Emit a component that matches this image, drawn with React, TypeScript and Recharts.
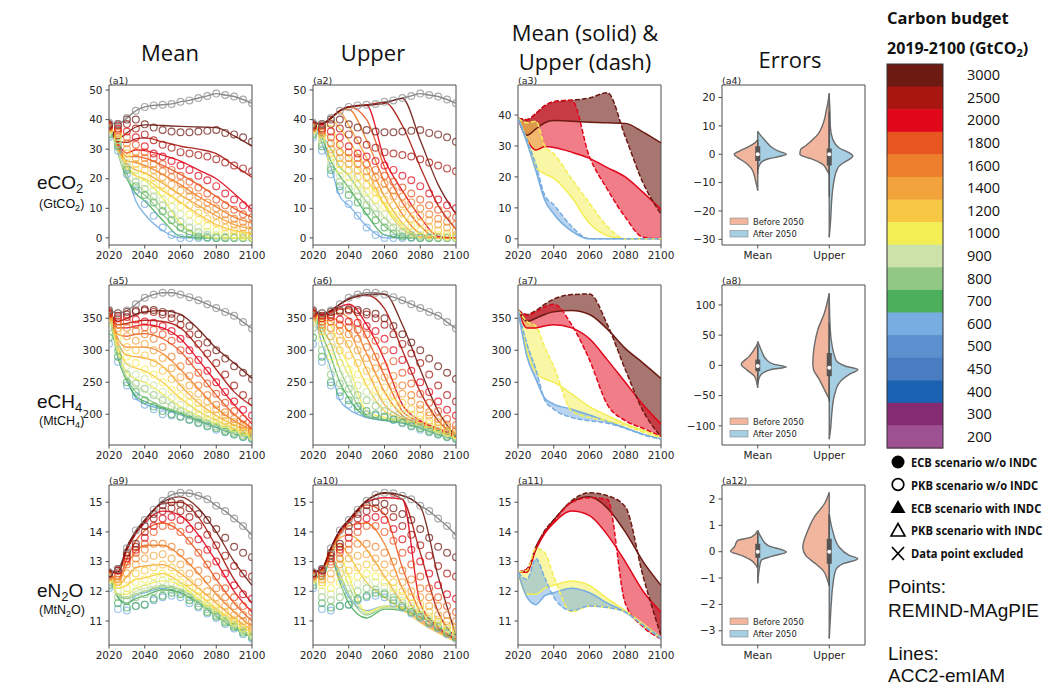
import {
  Area,
  ComposedChart,
  Line,
  ReferenceArea,
  ReferenceDot,
  ReferenceLine,
  Scatter,
  XAxis,
  YAxis,
} from "recharts";

// ---- shared axes / categories ----
const pointYears = [2020, 2025, 2030, 2035, 2040, 2045, 2050, 2055, 2060, 2065, 2070, 2075, 2080, 2085, 2090, 2095, 2100];
const lineYears = [2020, 2025, 2030, 2035, 2040, 2050, 2060, 2070, 2080, 2090, 2100];
const yearTicks = [2020, 2040, 2060, 2080, 2100];

const budgets = [3000, 2500, 2000, 1800, 1600, 1400, 1200, 1000, 900, 800, 700, 600];
const budgetColors = [
  "#6d1a12", "#a8160f", "#e2061b", "#e95520", "#ee7f2d", "#f3a33b",
  "#f7c844", "#f4ee55", "#cde2a9", "#92c886", "#4caf5c", "#77ade0",
];
const bandBudgets = [3000, 2000, 1000, 600];
const baselineColor = "#8a8a8a";

const colorbarLabels = [3000, 2500, 2000, 1800, 1600, 1400, 1200, 1000, 900, 800, 700, 600, 500, 450, 400, 300, 200];
const colorbarColors = [
  "#6d1a12", "#a8160f", "#e2061b", "#e95520", "#ee7f2d", "#f3a33b", "#f7c844", "#f4ee55",
  "#cde2a9", "#92c886", "#4caf5c", "#77ade0", "#5b90cf", "#4a7cc1", "#1b62b2", "#852b74", "#9d5193",
];

// ---- eCO2 (GtCO2) ----
const co2Baseline = [39, 38.5, 40.5, 43, 44.3, 44.8, 45, 45.3, 46, 46.5, 47.3, 48, 48.8, 48.3, 47.8, 46.8, 45.5];
const co2Points = [
  [38.5, 38.5, 40, 40, 38.4, 37.3, 36.5, 36, 35.7, 35.7, 36, 36.2, 36.5, 35.5, 35, 34, 32.5],
  [38, 38, 38.5, 37, 35, 33, 31.5, 30.5, 29, 28.5, 28, 27.5, 26.6, 25.5, 24.5, 23.5, 22.5],
  [38, 37, 36, 34, 31, 28.5, 27.5, 26, 24.5, 23, 21, 19.5, 17.5, 15, 13, 11, 10],
  [37.5, 36.5, 34, 31.5, 29, 27, 25, 23, 21, 19, 17, 15, 13, 11, 9.5, 8, 7],
  [37.5, 36, 32, 29, 27, 25, 22.5, 20.5, 18.5, 16, 14, 12, 10, 8, 6.5, 5.5, 4.5],
  [37, 35.5, 30, 27, 25, 23, 20.5, 18, 16, 14, 11.5, 9.5, 7.5, 6, 4.5, 3.5, 2.5],
  [37, 35, 28.5, 25, 23, 20.5, 18, 15.5, 13, 11, 8.5, 6.5, 5, 3.5, 2.5, 1.5, 1],
  [36.5, 34, 27, 23, 20.5, 18, 15.5, 13, 10.5, 8, 6, 4, 2.5, 1.5, 1, 0.5, 0.3],
  [36, 33, 25.5, 21, 18.5, 16, 13, 10.5, 8, 5.5, 3.5, 2, 1, 0.5, 0.3, 0.2, 0.1],
  [35.5, 32, 24, 19, 16.5, 14, 11, 8, 5.5, 3.5, 2, 1, 0.5, 0.3, 0.2, 0.1, 0],
  [35, 31, 23, 17.5, 14.5, 12, 9, 6, 3.5, 1.5, 0.5, 0.2, 0, 0, 0, 0, 0],
  [34, 29.5, 21.5, 16, 11.5, 7.5, 3.5, 1, 0, 0, 0, 0, 0, 0, 0, 0, 0],
];
const co2Mean = [
  [39, 33.5, 35.5, 37.5, 38.2, 38, 37.7, 37.5, 37.3, 34.5, 31],
  [39, 32.5, 32.3, 33.5, 33.8, 32.5, 31, 30, 28.5, 24.5, 20.5],
  [39, 32, 28.7, 29.8, 29.5, 28, 26, 23, 20, 15, 9.5],
  [39, 31.5, 27.5, 27.5, 27, 24.5, 21.5, 18, 14, 10, 7],
  [39, 31, 26, 25.5, 24.5, 21.5, 18, 14, 10.5, 7, 5],
  [39, 30.5, 25, 23, 22, 18.5, 14.5, 11, 7.5, 4.5, 3],
  [39, 30, 24, 21, 20, 16, 12, 8, 4.5, 2.5, 1.5],
  [39, 32, 23, 21, 19.5, 13.4, 5, 1, 0, 0, 0],
  [39, 29, 21, 18, 16, 10, 4, 1, 0.2, 0, 0],
  [39, 28.5, 20, 16.5, 14.5, 8, 2.5, 0.5, 0, 0, 0],
  [39, 29, 20, 15, 12.5, 6, 0.5, 0, 0, 0, 0],
  [39, 31, 22, 12.5, 8, 2.5, 0, 0, 0, 0, 0],
];
const co2Upper = [
  [39, 38.5, 40.5, 43, 44.3, 44.8, 45.5, 47.2, 33, 18, 8],
  [39, 38.5, 40.5, 43, 44.3, 45, 45.8, 38, 24, 11, 3],
  [39, 38.5, 40.5, 43, 44.3, 44.8, 26.5, 16, 7, 0.5, 0],
  [39, 38.5, 40.5, 43, 44.3, 40, 24, 12, 4, 0, 0],
  [39, 38.5, 40.5, 43, 43.5, 33, 19, 8, 1.5, 0, 0],
  [39, 38.5, 40.5, 42.5, 38, 27, 14, 5, 0.5, 0, 0],
  [39, 38.5, 40, 37, 33, 23, 11, 3, 0, 0, 0],
  [39, 37.5, 38, 30, 27.5, 19.4, 11.5, 4, 0, 0, 0],
  [39, 36, 33, 27, 24, 15, 7, 1.5, 0, 0, 0],
  [39, 35, 30, 24, 21, 12, 4, 0.5, 0, 0, 0],
  [39, 34, 26, 21, 17, 8, 1, 0, 0, 0, 0],
  [39, 32, 24, 14, 11, 4, 0, 0, 0, 0, 0],
];

// ---- eCH4 (MtCH4) ----
const ch4Baseline = [363, 358, 362, 372, 382, 387, 390, 390, 387, 383, 378, 372, 366, 360, 354, 344, 334];
const ch4Points = [
  [362, 358, 360, 362, 364, 363, 360, 357, 350, 338, 325, 312, 300, 287, 275, 265, 255],
  [360, 354, 356, 360, 362, 360, 356, 350, 340, 325, 310, 295, 280, 262, 245, 230, 220],
  [358, 350, 352, 348, 345, 343, 338, 330, 318, 300, 285, 268, 250, 235, 220, 207, 198],
  [356, 345, 345, 340, 336, 332, 325, 315, 300, 283, 265, 248, 232, 218, 205, 193, 183],
  [354, 340, 335, 330, 325, 318, 305, 290, 275, 260, 245, 230, 215, 203, 193, 184, 176],
  [352, 335, 322, 315, 310, 300, 288, 272, 258, 245, 232, 220, 208, 198, 188, 180, 173],
  [350, 330, 305, 300, 292, 280, 268, 255, 242, 230, 218, 208, 198, 190, 182, 175, 169],
  [345, 320, 290, 280, 270, 262, 250, 238, 228, 218, 208, 200, 192, 185, 178, 172, 167],
  [340, 310, 275, 262, 255, 245, 235, 225, 215, 208, 200, 193, 187, 181, 175, 170, 166],
  [335, 300, 262, 248, 240, 230, 222, 213, 205, 198, 192, 186, 181, 176, 171, 167, 164],
  [320, 290, 250, 235, 222, 212, 205, 200, 196, 192, 187, 182, 178, 173, 169, 165, 162],
  [310, 282, 245, 228, 215, 208, 200, 198, 196, 191, 186, 181, 176, 172, 168, 164, 161],
];
const ch4Mean = [
  [363, 345, 350, 356, 360, 362, 356, 333, 303, 280, 256],
  [363, 340, 342, 345, 347, 345, 335, 305, 270, 235, 213],
  [363, 335, 335, 338, 340, 335, 318, 285, 250, 215, 185],
  [363, 325, 322, 325, 326, 318, 298, 265, 230, 200, 178],
  [363, 318, 305, 305, 305, 295, 270, 240, 210, 190, 175],
  [363, 312, 292, 290, 288, 275, 245, 218, 198, 183, 172],
  [363, 305, 278, 272, 268, 250, 225, 205, 190, 178, 168],
  [363, 300, 265, 255, 250, 232, 212, 198, 185, 175, 166],
  [363, 295, 258, 245, 236, 220, 206, 195, 183, 173, 165],
  [363, 292, 255, 235, 226, 212, 203, 192, 181, 171, 164],
  [363, 288, 252, 228, 220, 210, 201, 190, 180, 170, 163],
  [363, 290, 255, 225, 216, 208, 199, 189, 179, 169, 162],
];
const ch4Upper = [
  [363, 356, 362, 372, 380, 387, 388, 340, 270, 205, 165],
  [363, 356, 362, 372, 380, 386, 365, 300, 235, 190, 165],
  [363, 355, 360, 368, 372, 340, 285, 215, 190, 178, 166],
  [363, 354, 358, 364, 365, 320, 260, 205, 188, 176, 165],
  [363, 352, 355, 358, 350, 295, 235, 198, 186, 175, 164],
  [363, 350, 350, 345, 330, 270, 215, 195, 184, 174, 164],
  [363, 348, 345, 330, 305, 245, 205, 193, 183, 173, 163],
  [363, 345, 338, 305, 275, 205, 195, 190, 182, 172, 163],
  [363, 340, 325, 290, 260, 200, 193, 189, 181, 171, 162],
  [363, 335, 310, 270, 240, 198, 192, 188, 180, 170, 162],
  [363, 325, 290, 250, 225, 196, 191, 187, 179, 169, 161],
  [363, 310, 270, 222, 208, 195, 190, 186, 178, 168, 161],
];

// ---- eN2O (MtN2O) ----
const n2oBaseline = [12.65, 12.75, 13.45, 14.05, 14.4, 14.75, 15.05, 15.25, 15.32, 15.3, 15.22, 15.1, 14.88, 14.7, 14.45, 14.2, 13.88];
const n2oPoints = [
  [12.6, 12.75, 13.3, 13.6, 14.2, 14.6, 14.9, 15.0, 14.95, 14.8, 14.6, 14.4, 14.1, 13.8, 13.5, 13.3, 13.15],
  [12.6, 12.7, 13.2, 13.5, 14.0, 14.45, 14.7, 14.8, 14.7, 14.5, 14.2, 13.9, 13.55, 13.2, 12.85, 12.6, 12.5],
  [12.6, 12.7, 13.1, 13.4, 13.8, 14.2, 14.45, 14.5, 14.4, 14.1, 13.75, 13.4, 13.0, 12.6, 12.2, 11.9, 11.75],
  [12.55, 12.6, 13.0, 13.3, 13.6, 14.0, 14.2, 14.2, 14.0, 13.7, 13.3, 12.9, 12.5, 12.1, 11.8, 11.5, 11.3],
  [12.5, 12.5, 12.9, 13.1, 13.4, 13.6, 13.6, 13.5, 13.3, 13.0, 12.7, 12.4, 12.1, 11.8, 11.5, 11.2, 11.0],
  [12.5, 12.4, 12.6, 12.9, 13.1, 13.2, 13.25, 13.1, 12.9, 12.6, 12.3, 12.0, 11.8, 11.5, 11.2, 11.0, 10.8],
  [12.45, 12.3, 12.4, 12.6, 12.7, 12.8, 12.9, 12.8, 12.6, 12.3, 12.0, 11.8, 11.55, 11.3, 11.05, 10.85, 10.7],
  [12.4, 12.2, 12.1, 12.3, 12.4, 12.5, 12.6, 12.5, 12.3, 12.1, 11.85, 11.6, 11.4, 11.15, 10.95, 10.75, 10.6],
  [12.4, 12.0, 11.9, 12.0, 12.1, 12.25, 12.35, 12.3, 12.15, 11.95, 11.7, 11.5, 11.3, 11.05, 10.9, 10.7, 10.55],
  [12.3, 11.8, 11.7, 11.8, 11.9, 12.0, 12.1, 12.05, 11.95, 11.8, 11.6, 11.4, 11.2, 11.0, 10.85, 10.65, 10.5],
  [12.2, 11.6, 11.45, 11.5, 11.55, 11.75, 11.85, 11.95, 11.9, 11.7, 11.5, 11.3, 11.15, 10.95, 10.8, 10.6, 10.45],
  [12.1, 11.4, 11.35, 11.5, 11.55, 11.7, 11.8, 11.85, 11.8, 11.6, 11.45, 11.25, 11.1, 10.9, 10.75, 10.55, 10.4],
];
const n2oMean = [
  [12.65, 12.65, 13.5, 14.0, 14.4, 15.0, 15.18, 14.8, 14.0, 13.0, 12.2],
  [12.65, 12.6, 13.4, 13.95, 14.35, 14.95, 15.0, 14.5, 13.5, 12.4, 11.6],
  [12.65, 12.65, 13.4, 13.95, 14.3, 14.7, 14.55, 13.9, 13.0, 12.0, 11.3],
  [12.65, 12.4, 13.1, 13.7, 14.05, 14.3, 14.0, 13.3, 12.4, 11.6, 11.0],
  [12.65, 12.3, 12.9, 13.35, 13.55, 13.55, 13.2, 12.6, 11.9, 11.3, 10.8],
  [12.65, 12.2, 12.5, 12.8, 12.85, 12.9, 12.6, 12.1, 11.6, 11.1, 10.7],
  [12.65, 12.1, 12.2, 12.4, 12.45, 12.6, 12.3, 11.9, 11.4, 11.0, 10.6],
  [12.65, 11.9, 11.9, 12.1, 12.2, 12.35, 12.2, 11.75, 11.35, 10.9, 10.45],
  [12.65, 11.9, 11.8, 12.0, 12.1, 12.2, 12.1, 11.7, 11.25, 10.85, 10.5],
  [12.65, 11.85, 11.75, 11.9, 12.0, 12.15, 12.05, 11.65, 11.2, 10.8, 10.5],
  [12.65, 11.8, 11.6, 11.75, 11.85, 12.05, 11.95, 11.6, 11.15, 10.75, 10.45],
  [12.65, 11.8, 11.55, 11.85, 11.95, 12.1, 11.95, 11.6, 11.3, 10.85, 10.45],
];
const n2oUpper = [
  [12.65, 12.75, 13.45, 14.05, 14.4, 15.05, 15.32, 15.22, 14.85, 12.5, 10.5],
  [12.65, 12.75, 13.45, 14.05, 14.4, 15.05, 15.3, 15.1, 13.3, 11.3, 10.45],
  [12.65, 12.75, 13.45, 14.0, 14.35, 15.0, 15.15, 15.1, 11.6, 10.8, 10.4],
  [12.65, 12.7, 13.4, 13.95, 14.3, 14.9, 14.6, 12.8, 11.3, 10.75, 10.4],
  [12.65, 12.7, 13.35, 13.9, 14.2, 14.3, 13.6, 12.1, 11.1, 10.7, 10.35],
  [12.65, 12.7, 13.3, 13.8, 13.9, 13.4, 12.5, 11.6, 11.0, 10.65, 10.35],
  [12.65, 12.65, 13.3, 13.6, 13.2, 12.3, 11.8, 11.4, 10.95, 10.6, 10.3],
  [12.65, 12.7, 13.45, 13.3, 12.5, 11.3, 11.5, 11.45, 11.3, 10.85, 10.4],
  [12.65, 12.6, 13.3, 13.0, 12.2, 11.25, 11.45, 11.4, 11.2, 10.8, 10.4],
  [12.65, 12.5, 13.2, 12.6, 11.9, 11.2, 11.45, 11.4, 11.2, 10.8, 10.4],
  [12.65, 12.4, 13.1, 12.3, 11.6, 11.1, 11.4, 11.35, 11.15, 10.75, 10.35],
  [12.65, 12.4, 13.1, 12.45, 11.8, 11.35, 11.5, 11.45, 11.3, 10.85, 10.4],
];

// ---- errors (violins): [value, half-width] ----
const errorCategories = ["Mean", "Upper"];
const co2MeanBefore = [[5.2, 0], [4, 0.04], [2.8, 0.12], [1.2, 0.25], [0, 0.33], [-1.2, 0.28], [-3, 0.17], [-5, 0.09], [-6.5, 0.06], [-8.9, 0.035], [-11, 0.015], [-12.8, 0]];
const co2MeanAfter = [[8.1, 0], [7, 0.03], [5.2, 0.09], [3.5, 0.15], [2.2, 0.21], [1, 0.3], [0, 0.4], [-0.8, 0.3], [-1.6, 0.15], [-2.6, 0.06], [-4, 0.02], [-5.5, 0]];
const co2UpperBefore = [[21.5, 0], [18, 0.02], [15.7, 0.04], [12, 0.07], [9.8, 0.1], [7, 0.16], [5.2, 0.23], [3, 0.33], [1.7, 0.4], [0, 0.41], [-1, 0.33], [-1.8, 0.23], [-3.6, 0.09], [-5.3, 0.04], [-7.1, 0]];
const co2UpperAfter = [[20.4, 0], [15, 0.01], [9.8, 0.015], [5.2, 0.05], [2.2, 0.14], [0.5, 0.28], [-0.7, 0.33], [-1.8, 0.28], [-3, 0.2], [-4.2, 0.14], [-6, 0.1], [-8.9, 0.07], [-12, 0.05], [-15.9, 0.035], [-22.9, 0.02], [-29.3, 0]];
const ch4MeanBefore = [[37, 0], [31.5, 0.023], [15, 0.12], [1.4, 0.23], [-6.8, 0.16], [-17.8, 0.047], [-28.8, 0.014], [-37, 0]];
const ch4MeanAfter = [[39.7, 0], [26, 0.047], [9.6, 0.12], [2, 0.22], [-2.5, 0.4], [-6.8, 0.19], [-15, 0.047], [-23, 0.014], [-31.5, 0]];
const ch4UpperBefore = [[119, 0], [86, 0.07], [59, 0.16], [31.5, 0.21], [4, 0.23], [-6.8, 0.22], [-23, 0.14], [-45, 0.047], [-56, 0]];
const ch4UpperAfter = [[116, 0], [59, 0.014], [9.6, 0.09], [-1.4, 0.23], [-6.8, 0.4], [-15, 0.28], [-28.8, 0.14], [-50.7, 0.07], [-78, 0.037], [-105, 0.019], [-122, 0]];
const n2oMeanBefore = [[0.8, 0], [0.55, 0.09], [0.43, 0.28], [0.17, 0.33], [0.02, 0.38], [-0.14, 0.23], [-0.33, 0.09], [-0.52, 0.023], [-0.64, 0]];
const n2oMeanAfter = [[0.8, 0], [0.55, 0.047], [0.24, 0.14], [-0.01, 0.4], [-0.18, 0.19], [-0.33, 0.047], [-0.7, 0.019], [-1.2, 0]];
const n2oUpperBefore = [[2.25, 0], [1.81, 0.07], [1.31, 0.21], [0.8, 0.3], [0.17, 0.37], [-0.14, 0.33], [-0.46, 0.19], [-0.7, 0.09], [-1.09, 0.023], [-1.27, 0]];
const n2oUpperAfter = [[1.43, 0], [0.8, 0.047], [0.17, 0.14], [-0.14, 0.28], [-0.27, 0.4], [-0.46, 0.19], [-0.7, 0.09], [-1.34, 0.047], [-1.97, 0.028], [-2.6, 0.014], [-3.29, 0]];
// box: [q1, q3, whiskerLow, whiskerHigh, median]
const co2Boxes = [[-2.4, 2.8, -7, 5.2, 0], [-4, 2, -15, 15, 0]];
const ch4Boxes = [[-9.6, 9.6, -25, 30, -1], [-17.8, 20.5, -60, 70, -4]];
const n2oBoxes = [[-0.23, 0.3, -0.6, 0.7, 0], [-0.46, 0.49, -1.3, 1.4, 0]];

// ---- layout ----
const colLeft = [109, 313, 518, 722];
const rowTop = [85, 285, 485];
const PLOT_W = 143;
const PLOT_H = 160;
const Y_W = 40;
const TOP_M = 14;
const RIGHT_M = 16;
const X_H = 24;
const CHART_W = Y_W + PLOT_W + RIGHT_M;
const CHART_H = TOP_M + PLOT_H + X_H;
const FRAME = "#4d4d4d";
const TICK = { fontSize: 10.5, fill: "#262626", fontFamily: "DejaVu Sans" };
const SALMON = "#f2b59d";
const SKY = "#a6cfe4";

const fmt = (v: number) => (v < 0 ? "\u2212" + Math.abs(v) : String(v));
const toSeries = (years: number[], values: number[]) => years.map((year, i) => ({ year, v: values[i] }));
const ring = (color: string) => (props: any) => (
  <circle cx={props.cx} cy={props.cy} r={3.4} fill="none" stroke={color} strokeWidth={1.2} strokeOpacity={0.72} />
);

function Axes({ yDomain, yTicks }: { yDomain: number[]; yTicks: number[] }) {
  return (
    <>
      <XAxis type="number" dataKey="year" domain={[2020, 2100]} ticks={yearTicks} allowDataOverflow
        height={X_H} tick={TICK} tickSize={3.5} tickMargin={3} axisLine={false} tickLine={{ stroke: FRAME }} />
      <YAxis type="number" dataKey="v" domain={yDomain} ticks={yTicks} allowDataOverflow width={Y_W}
        tick={TICK} tickSize={3.5} tickMargin={3} axisLine={false} tickLine={{ stroke: FRAME }} tickFormatter={fmt} />
    </>
  );
}

function LinePanel({ left, top, yDomain, yTicks, baseline, points, lines }: any) {
  const order = budgets.map((_, i) => budgets.length - 1 - i);
  return (
    <div style={{ position: "absolute", left: left - Y_W, top: top - TOP_M }}>
      <ComposedChart width={CHART_W} height={CHART_H} margin={{ top: TOP_M, right: RIGHT_M, bottom: 0, left: 0 }}>
        {Axes({ yDomain, yTicks })}
        {order.map((i) => (
          <Scatter key={"p" + budgets[i]} data={toSeries(pointYears, points[i])} shape={ring(budgetColors[i])} isAnimationActive={false} />
        ))}
        <Scatter data={toSeries(pointYears, baseline)} shape={ring(baselineColor)} isAnimationActive={false} />
        <Line data={toSeries(pointYears, baseline)} dataKey="v" type="monotone" stroke={baselineColor} strokeWidth={1.4} dot={false} isAnimationActive={false} />
        {order.map((i) => (
          <Line key={"l" + budgets[i]} data={toSeries(lineYears, lines[i])} dataKey="v" type="monotone"
            stroke={budgetColors[i]} strokeOpacity={0.9} strokeWidth={1.35} dot={false} isAnimationActive={false} />
        ))}
        <ReferenceArea x1={2020} x2={2100} y1={yDomain[0]} y2={yDomain[1]} fill="none" stroke={FRAME} strokeWidth={1} />
      </ComposedChart>
    </div>
  );
}

function BandPanel({ left, top, yDomain, yTicks, mean, upper }: any) {
  const idx = bandBudgets.map((b) => budgets.indexOf(b));
  const bandData = (i: number) => lineYears.map((year, k) => ({ year, band: [mean[i][k], upper[i][k]], mean: mean[i][k], upper: upper[i][k] }));
  return (
    <div style={{ position: "absolute", left: left - Y_W, top: top - TOP_M }}>
      <ComposedChart width={CHART_W} height={CHART_H} margin={{ top: TOP_M, right: RIGHT_M, bottom: 0, left: 0 }}>
        {Axes({ yDomain, yTicks })}
        {idx.map((i) => (
          <Area key={"a" + i} data={bandData(i)} dataKey="band" type="monotone" fill={budgetColors[i]}
            fillOpacity={i === 0 ? 0.6 : 0.52} stroke="none" isAnimationActive={false} />
        ))}
        {idx.map((i) => (
          <Line key={"m" + i} data={bandData(i)} dataKey="mean" type="monotone" stroke={budgetColors[i]} strokeWidth={1.5} dot={false} isAnimationActive={false} />
        ))}
        {idx.map((i) => (
          <Line key={"u" + i} data={bandData(i)} dataKey="upper" type="monotone" stroke={budgetColors[i]} strokeWidth={1.5} strokeDasharray="5 2" dot={false} isAnimationActive={false} />
        ))}
        <ReferenceArea x1={2020} x2={2100} y1={yDomain[0]} y2={yDomain[1]} fill="none" stroke={FRAME} strokeWidth={1} />
      </ComposedChart>
    </div>
  );
}

function ViolinPanel({ left, top, yDomain, yTicks, halves, boxes }: any) {
  const half = (rows: number[][], center: number, dir: number) =>
    rows.map(([v, w]) => ({ v, band: [center, center + dir * w] }));
  return (
    <div style={{ position: "absolute", left: left - Y_W, top: top - TOP_M }}>
      <ComposedChart layout="vertical" width={CHART_W} height={CHART_H} margin={{ top: TOP_M, right: RIGHT_M, bottom: 0, left: 0 }}>
        <XAxis type="number" domain={[-0.5, 1.5]} ticks={[0, 1]} allowDataOverflow height={X_H} tick={TICK}
          tickSize={3.5} tickMargin={3} axisLine={false} tickLine={{ stroke: FRAME }} tickFormatter={(v: number) => errorCategories[v]} />
        <YAxis type="number" dataKey="v" domain={yDomain} ticks={yTicks} allowDataOverflow reversed width={Y_W} tick={TICK}
          tickSize={3.5} tickMargin={3} axisLine={false} tickLine={{ stroke: FRAME }} tickFormatter={fmt} />
        {halves.map((pair: number[][][], c: number) => [
          <Area key={"b" + c} data={half(pair[0], c, -1)} dataKey="band" type="monotone" fill={SALMON} fillOpacity={1}
            stroke="#6b6b6b" strokeWidth={1.4} isAnimationActive={false} />,
          <Area key={"f" + c} data={half(pair[1], c, 1)} dataKey="band" type="monotone" fill={SKY} fillOpacity={1}
            stroke="#6b6b6b" strokeWidth={1.4} isAnimationActive={false} />,
        ])}
        {boxes.map((b: number[], c: number) => (
          <ReferenceLine key={"w" + c} segment={[{ x: c, y: b[2] }, { x: c, y: b[3] }]} stroke="#555" strokeWidth={1.3} />
        ))}
        {boxes.map((b: number[], c: number) => (
          <ReferenceArea key={"q" + c} x1={c - 0.035} x2={c + 0.035} y1={b[0]} y2={b[1]} fill="#555" fillOpacity={1} stroke="none" />
        ))}
        {boxes.map((b: number[], c: number) => (
          <ReferenceDot key={"d" + c} x={c} y={b[4]} r={2} fill="#fff" stroke="none" />
        ))}
        <ReferenceArea x1={-0.5} x2={1.5} y1={yDomain[0]} y2={yDomain[1]} fill="none" stroke={FRAME} strokeWidth={1} />
      </ComposedChart>
    </div>
  );
}

function ViolinLegend({ left, top }: { left: number; top: number }) {
  const items = [["Before 2050", SALMON], ["After 2050", SKY]];
  return (
    <g>
      {items.map(([label, color], i) => (
        <g key={label}>
          <rect x={left + 8} y={top + 133 + i * 12.5} width={18} height={6.5} fill={color} stroke="#888" strokeWidth={0.6} />
          <text x={left + 31} y={top + 139.5 + i * 12.5} fontSize={8.3} fontFamily="DejaVu Sans" fill="#262626">{label}</text>
        </g>
      ))}
    </g>
  );
}

export default function App() {
  const gases = [
    { baseline: co2Baseline, points: co2Points, mean: co2Mean, upper: co2Upper, dom: [-2.4, 51.7], bandDom: [-2, 49.7], ticks: [0, 10, 20, 30, 40, 50], bandTicks: [0, 10, 20, 30, 40] },
    { baseline: ch4Baseline, points: ch4Points, mean: ch4Mean, upper: ch4Upper, dom: [152, 402], bandDom: [152, 402], ticks: [200, 250, 300, 350], bandTicks: [200, 250, 300, 350] },
    { baseline: n2oBaseline, points: n2oPoints, mean: n2oMean, upper: n2oUpper, dom: [10.19, 15.58], bandDom: [10.19, 15.58], ticks: [11, 12, 13, 14, 15], bandTicks: [11, 12, 13, 14, 15] },
  ];
  const violins = [
    { dom: [-32, 24.4], ticks: [-30, -20, -10, 0, 10, 20], halves: [[co2MeanBefore, co2MeanAfter], [co2UpperBefore, co2UpperAfter]], boxes: co2Boxes },
    { dom: [-131.7, 133], ticks: [-100, -50, 0, 50, 100], halves: [[ch4MeanBefore, ch4MeanAfter], [ch4UpperBefore, ch4UpperAfter]], boxes: ch4Boxes },
    { dom: [-3.54, 2.53], ticks: [-3, -2, -1, 0, 1, 2], halves: [[n2oMeanBefore, n2oMeanAfter], [n2oUpperBefore, n2oUpperAfter]], boxes: n2oBoxes },
  ];
  const rowLabels = [
    { main: ["eCO", "2", ""], unit: ["(GtCO", "2", ")"] },
    { main: ["eCH", "4", ""], unit: ["(MtCH", "4", ")"] },
    { main: ["eN", "2", "O"], unit: ["(MtN", "2", "O)"] },
  ];
  const rowLabelY = [[189, 208], [408, 425], [597, 614]];
  const segH = (448 - 64) / colorbarLabels.length;
  const legendItems = [
    "ECB scenario w/o INDC",
    "PKB scenario w/o INDC",
    "ECB scenario with INDC",
    "PKB scenario with INDC",
    "Data point excluded",
  ];

  return (
    <div style={{ position: "absolute", left: 0, top: 0, width: 1049, height: 688, background: "#fff", overflow: "hidden" }}>
      {gases.map((g, r) => (
        <div key={"row" + r}>
          <LinePanel left={colLeft[0]} top={rowTop[r]} yDomain={g.dom} yTicks={g.ticks} baseline={g.baseline} points={g.points} lines={g.mean} />
          <LinePanel left={colLeft[1]} top={rowTop[r]} yDomain={g.dom} yTicks={g.ticks} baseline={g.baseline} points={g.points} lines={g.upper} />
          <BandPanel left={colLeft[2]} top={rowTop[r]} yDomain={g.bandDom} yTicks={g.bandTicks} mean={g.mean} upper={g.upper} />
          <ViolinPanel left={colLeft[3]} top={rowTop[r]} yDomain={violins[r].dom} yTicks={violins[r].ticks} halves={violins[r].halves} boxes={violins[r].boxes} />
        </div>
      ))}

      <svg width={1049} height={688} style={{ position: "absolute", left: 0, top: 0, pointerEvents: "none" }}>
        {/* column titles */}
        <g fontFamily="Open Sans" fontSize={22} fill="#111" textAnchor="middle">
          <text x={170} y={61}>Mean</text>
          <text x={373} y={61}>Upper</text>
          <text x={585} y={41}>Mean (solid) &amp;</text>
          <text x={585} y={70}>Upper (dash)</text>
          <text x={790} y={68}>Errors</text>
        </g>

        {/* row labels */}
        {rowLabels.map((lab, r) => (
          <g key={"rl" + r} fontFamily="Liberation Sans" fill="#111">
            <text x={37} y={rowLabelY[r][0]} fontSize={19}>
              {lab.main[0]}
              <tspan fontSize={13} dy={4}>{lab.main[1]}</tspan>
              <tspan dy={-4}>{lab.main[2]}</tspan>
            </text>
            <text x={39} y={rowLabelY[r][1]} fontSize={12.5}>
              {lab.unit[0]}
              <tspan fontSize={9} dy={3}>{lab.unit[1]}</tspan>
              <tspan dy={-3}>{lab.unit[2]}</tspan>
            </text>
          </g>
        ))}

        {/* panel labels */}
        {rowTop.map((t, r) =>
          colLeft.map((l, c) => (
            <text key={"pl" + r + c} x={l} y={t - 1.5} fontSize={9.5} fontFamily="DejaVu Sans" fill="#262626">
              {"(a" + (r * 4 + c + 1) + ")"}
            </text>
          ))
        )}

        {rowTop.map((t) => <ViolinLegend key={"vl" + t} left={colLeft[3]} top={t} />)}

        {/* colour bar */}
        <text x={887} y={24} fontFamily="Open Sans" fontWeight={700} fontSize={16.5} fill="#111">Carbon budget</text>
        <text x={887} y={54} fontFamily="Open Sans" fontWeight={700} fontSize={16} fill="#111">
          2019-2100 (GtCO<tspan fontSize={11} dy={3}>2</tspan><tspan dy={-3}>)</tspan>
        </text>
        {colorbarLabels.map((lab, i) => (
          <g key={"cb" + lab}>
            <rect x={887} y={64 + i * segH} width={56} height={segH + 0.5} fill={colorbarColors[i]} />
            <text x={967} y={64 + i * segH + segH / 2 + 5} fontFamily="Open Sans" fontSize={14.5} fill="#111">{lab}</text>
          </g>
        ))}
        <rect x={887} y={64} width={56} height={448 - 64} fill="none" stroke="#333" strokeWidth={1} />

        {/* marker legend */}
        <circle cx={898} cy={462} r={6.5} fill="#000" />
        <circle cx={898} cy={484.5} r={5.8} fill="none" stroke="#000" strokeWidth={1.7} />
        <polygon points="890.5,513 905.5,513 898,500" fill="#000" />
        <polygon points="891,536 905,536 898,523.5" fill="none" stroke="#000" strokeWidth={1.6} />
        <line x1={892} y1={547} x2={904} y2={560} stroke="#000" strokeWidth={1.7} />
        <line x1={904} y1={547} x2={892} y2={560} stroke="#000" strokeWidth={1.7} />
        {legendItems.map((label, i) => (
          <text key={"li" + i} transform={`translate(911, ${467 + i * 22.8}) scale(0.86, 1)`}
            fontFamily="Open Sans" fontWeight={700} fontSize={13} fill="#111">{label}</text>
        ))}

        <g fontFamily="Liberation Sans" fontSize={19} fill="#111">
          <text x={888} y={593}>Points:</text>
          <text x={888} y={617}>REMIND-MAgPIE</text>
          <text x={888} y={660}>Lines:</text>
          <text x={888} y={682}>ACC2-emIAM</text>
        </g>
      </svg>
    </div>
  );
}
